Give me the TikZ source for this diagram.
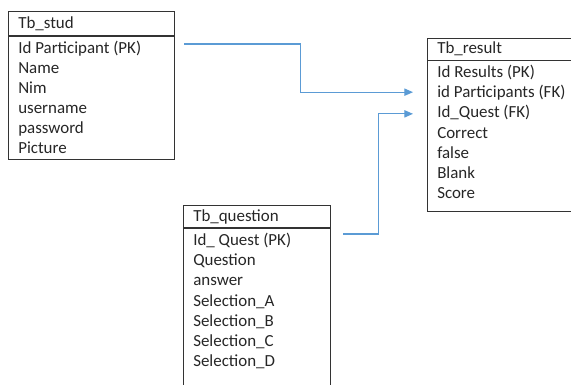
\documentclass[tikz,border=0pt]{standalone}
\usepackage{fontspec}
\setmainfont{Carlito}
\usetikzlibrary{arrows.meta,calc}
\definecolor{linkblue}{HTML}{5B9BD5}
\tikzset{
  field/.style={anchor=base west, inner sep=0pt, text=black!85,
    font=\fontsize{12.7}{15}\selectfont},
  tbl/.style={draw=black!80, line width=0.8pt, anchor=north west, inner sep=0pt},
  link/.style={draw=linkblue, line width=0.8pt, -{Triangle[length=6.5pt,width=5.5pt]}}
}
\begin{document}
\begin{tikzpicture}[x=0.75pt,y=-0.75pt]
\useasboundingbox (0,0) rectangle (571,385);

% Tb_stud
\node[tbl, minimum width=124.5pt, minimum height=111pt] (stud) at (8,11) {};
\draw[black!80, line width=0.8pt] ($(stud.north west)+(0,25)$) -- ($(stud.north east)+(0,25)$);
\node[field] (stud-head) at (18,29) {Tb\_stud};
\foreach \f [count=\i] in {Id Participant (PK),Name,Nim,username,password,Picture}{
  \node[field] (stud-\i) at (18,{54+19.9*(\i-1)}) {\f};
}

% Tb_result
\node[tbl, minimum width=111pt, minimum height=129.75pt] (result) at (427,38) {};
\draw[black!80, line width=0.8pt] ($(result.north west)+(0,22.5)$) -- ($(result.north east)+(0,22.5)$);
\node[field] (result-head) at (437,54) {Tb\_result};
\foreach \f [count=\i] in {Id Results (PK),id Participants (FK),Id\_Quest (FK),Correct,false,Blank,Score}{
  \node[field] (result-\i) at (437,{77.5+20.17*(\i-1)}) {\f};
}

% Tb_question
\node[tbl, minimum width=110.25pt, minimum height=138.75pt] (question) at (183,205) {};
\draw[black!80, line width=0.8pt] ($(question.north west)+(0,23)$) -- ($(question.north east)+(0,23)$);
\node[field] (question-head) at (193,221.5) {Tb\_question};
\foreach \f [count=\i] in {Id\_ Quest (PK),Question,answer,Selection\_A,Selection\_B,Selection\_C,Selection\_D}{
  \node[field] (question-\i) at (193,{245.5+20.17*(\i-1)}) {\f};
}

% relations
\draw[link] ($(stud-1.base -| stud.east)+(9,-10)$) -- ++(116,0)
  |- ($(result-2.base -| result.west)+(-14,-5.5)$);
\draw[link] ($(question-1.base -| question.east)+(12,-11.5)$) -- ++(35,0)
  |- ($(result-3.base -| result.west)+(-14,-4)$);

\end{tikzpicture}
\end{document}
